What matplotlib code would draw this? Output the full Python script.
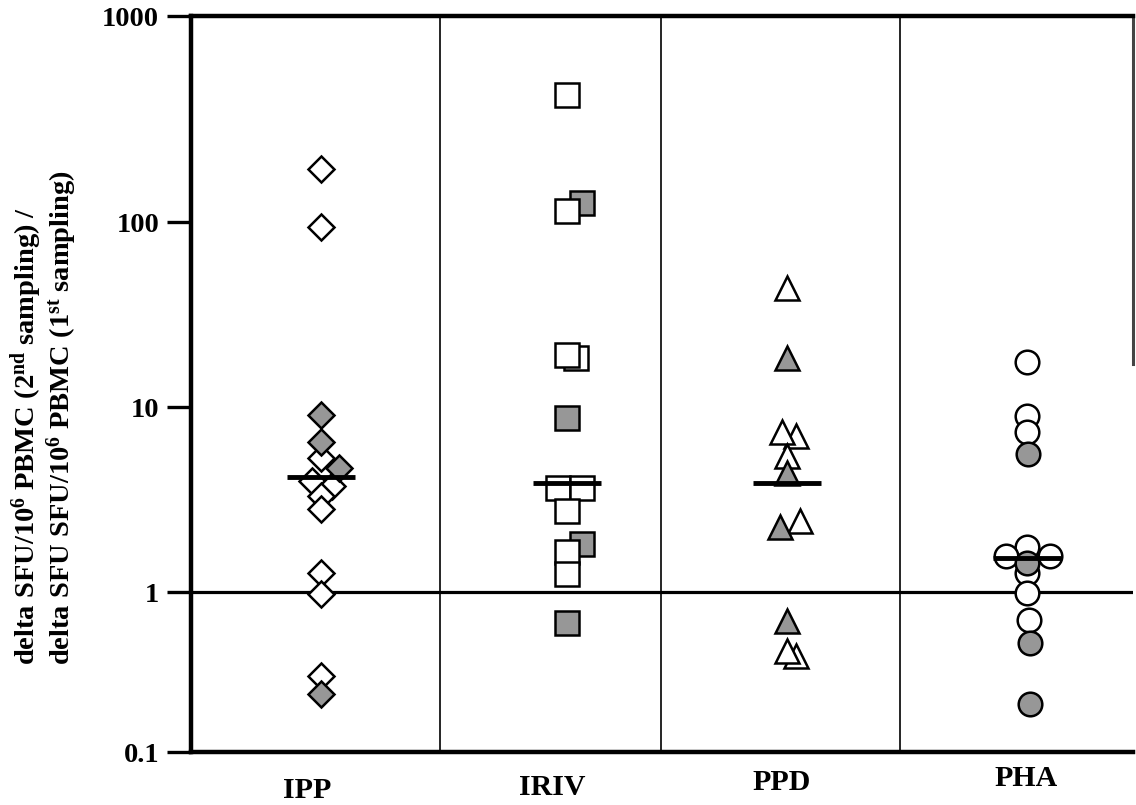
import numpy as np
import matplotlib
matplotlib.use('Agg')
import matplotlib.pyplot as plt
from matplotlib.ticker import FixedLocator, FixedFormatter, NullLocator

# ---------------- data ----------------
groups = ['IPP', 'IRIV', 'PPD', 'PHA']

ipp_open = [180, 94, 5.3, 4.0, 3.75, 3.3, 2.8, 1.27, 0.97, 0.30]
ipp_filled = [9.0, 6.5, 4.7, 0.23]
iriv_open = [412, 113, 18.5, 19, 3.65, 3.65, 2.75, 1.65, 1.25]
iriv_filled = [123, 8.7, 1.82, 0.64]
ppd_open = [44, 7.0, 7.3, 5.45, 2.43, 0.40, 0.43]
ppd_filled = [18.4, 4.4, 2.25, 0.66]
pha_open = [17.6, 8.9, 7.3, 1.76, 1.57, 1.57, 1.26, 0.99, 0.67]
pha_filled = [5.6, 1.43, 0.48, 0.20]
medians = [4.2, 3.88, 3.9, 1.52]

y_ticks = [0.1, 1, 10, 100, 1000]
y_ticklabels = ['0.1', '1', '10', '100', '1000']

# ---------------- layout (horizontal jitter, in axis units = pixels) ----------------
ipp_open_dx = [0, 0, 0, -9, 11, 0, 0, 0, 0, 0]
ipp_filled_dx = [0, 0, 18, 0]
iriv_open_dx = [0, 0, 9, 0, -9, 15, 0, 0, 0]
iriv_filled_dx = [15, 0, 15, 0]
ppd_open_dx = [0, 9, -5, 0, 13, 9, 0]
ppd_filled_dx = [0, 0, -7, 0]
pha_open_dx = [0, 0, 0, 0, -21, 23, 0, 0, 2]
pha_filled_dx = [1, 0, 3, 3]

centers = [130, 376, 596, 836]
label_x = [116, 361, 591, 835]
label_y = [-0.052, -0.048, -0.041, -0.036]
dividers = [249, 470, 709]

# hand-drawn axis: decades are not evenly spaced in the original
dec_log = [-10, -1, 0, 1, 2, 3, 10]
dec_pos = [-1440, 0, 160, 345, 530, 736, 736 + 7 * 206]


def fwd(v):
    v = np.asarray(v, dtype=float)
    l = np.log10(np.where(v > 0, v, 1e-10))
    return np.interp(l, dec_log, dec_pos)


def inv(p):
    p = np.asarray(p, dtype=float)
    return 10 ** np.interp(p, dec_pos, dec_log)


plt.rcParams['mathtext.fontset'] = 'custom'
plt.rcParams['mathtext.rm'] = 'Liberation Serif:bold'
plt.rcParams['mathtext.bf'] = 'Liberation Serif:bold'
plt.rcParams['mathtext.it'] = 'Liberation Serif:bold'
SERIF = 'Liberation Serif'

fig = plt.figure(figsize=(11.36, 8.05), dpi=100)
ax = fig.add_axes([191 / 1136, (805 - 752) / 805, 942 / 1136, 736 / 805])
ax.set_yscale('function', functions=(fwd, inv))
ax.set_ylim(0.1, 1000)
ax.set_xlim(0, 942)

GRAY = '#979797'
sets = [
    ('D', 13.5, ipp_open, ipp_open_dx, ipp_filled, ipp_filled_dx, False),
    ('s', 17, iriv_open, iriv_open_dx, iriv_filled, iriv_filled_dx, True),
    ('^', 17, ppd_open, ppd_open_dx, ppd_filled, ppd_filled_dx, False),
    ('o', 17, pha_open, pha_open_dx, pha_filled, pha_filled_dx, False),
]
for c, (mk, ms, ov, odx, fv, fdx, open_on_top) in zip(centers, sets):
    zo_open, zo_fill = (4.2, 4.1) if open_on_top else (4.1, 4.2)
    ax.plot(np.array(odx) + c, ov, ls='none', marker=mk, ms=ms, mfc='white',
            mec='black', mew=1.8, zorder=zo_open, clip_on=False)
    ax.plot(np.array(fdx) + c, fv, ls='none', marker=mk, ms=ms, mfc=GRAY,
            mec='black', mew=1.8, zorder=zo_fill, clip_on=False)

ax.axhline(1, color='black', lw=2.3, zorder=2)
for d in dividers:
    ax.axvline(d, color='black', lw=1.2, zorder=1)
ax.hlines(medians, np.array(centers) - 34, np.array(centers) + 34,
          color='black', lw=3.5, zorder=6)

for s in ['left', 'top', 'bottom']:
    ax.spines[s].set_linewidth(3.2)
ax.spines['right'].set_linewidth(2.2)
ax.spines['right'].set_color('#444444')
ax.spines['right'].set_bounds(17, 1000)

ax.yaxis.set_major_locator(FixedLocator(y_ticks))
ax.yaxis.set_major_formatter(FixedFormatter(y_ticklabels))
ax.yaxis.set_minor_locator(NullLocator())
ax.tick_params(axis='y', which='major', direction='out', length=17, width=2.4,
               pad=6, labelsize=20.5)
for t in ax.get_yticklabels():
    t.set_fontfamily(SERIF)
    t.set_fontweight('bold')
ax.set_xticks([])

for g, lx, ly in zip(groups, label_x, label_y):
    ax.text(lx, ly, g, transform=ax.get_xaxis_transform(), ha='center',
            va='center', fontsize=21.5, fontweight='bold', family=SERIF)

fig.text(26 / 1136, 140 / 805,
         r'delta SFU/10$^{6}$ PBMC (2$^{nd}$ sampling) /',
         rotation=90, ha='center', va='bottom', fontsize=20.5,
         fontweight='bold', family=SERIF)
fig.text(62 / 1136, 140 / 805,
         r'delta SFU SFU/10$^{6}$ PBMC (1$^{st}$ sampling)',
         rotation=90, ha='center', va='bottom', fontsize=20.5,
         fontweight='bold', family=SERIF)

fig.savefig('out.png', dpi=100)
